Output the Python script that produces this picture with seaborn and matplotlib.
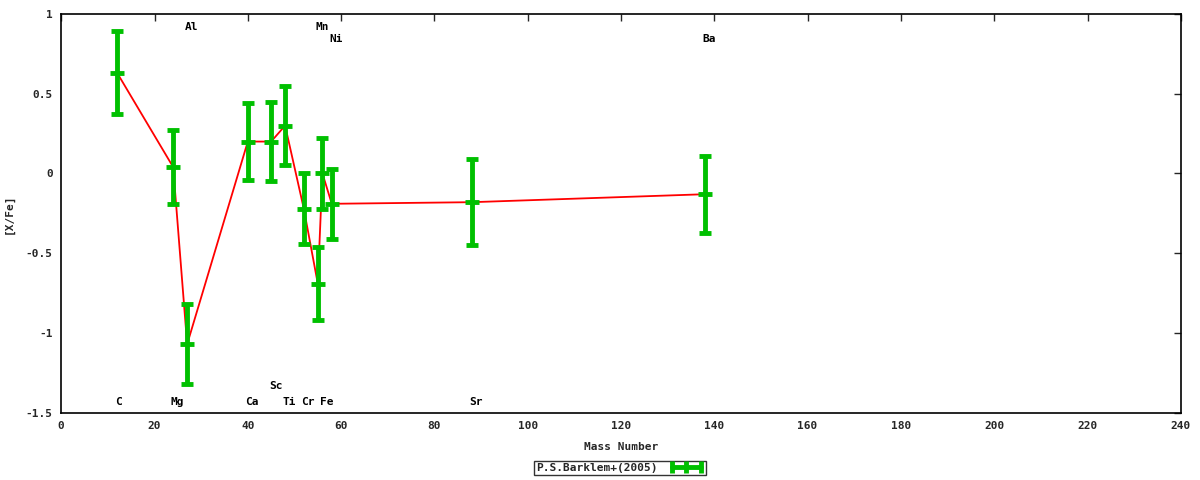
import numpy as np
import pandas as pd
import matplotlib
matplotlib.use('Agg')
import matplotlib.pyplot as plt
import seaborn as sns
from matplotlib.lines import Line2D
from matplotlib.legend_handler import HandlerLine2D

# ── Données ──────────────────────────────────────────────────────────────
elements = ['C', 'Mg', 'Al', 'Ca', 'Sc', 'Ti', 'Cr', 'Mn', 'Fe', 'Ni', 'Sr', 'Ba']
mass = [12, 24, 27, 40, 45, 48, 52, 55, 56, 58, 88, 138]
xfe = [0.63, 0.04, -1.07, 0.20, 0.20, 0.30, -0.22, -0.69, 0.00, -0.19, -0.18, -0.13]
err = [0.26, 0.23, 0.25, 0.24, 0.25, 0.25, 0.22, 0.23, 0.22, 0.22, 0.27, 0.24]
# position des étiquettes (haut / bas du cadre)
label_y = [-1.435, -1.435, 0.92, -1.435, -1.335, -1.435, -1.435, 0.92, -1.435, 0.845, -1.435, 0.845]

df = pd.DataFrame({'element': elements, 'mass': mass, 'xfe': xfe, 'err': err, 'ly': label_y})

sns.set_style('white')
plt.rcParams['font.family'] = ['DejaVu Sans Mono', 'DejaVu Sans']
plt.rcParams['font.weight'] = 'bold'
plt.rcParams['font.size'] = 8

green = '#00c000'
fig = plt.figure(figsize=(12, 4.8), dpi=100)
ax = fig.add_axes([0.051, 0.140, 0.933, 0.831])

sns.lineplot(data=df, x='mass', y='xfe', sort=False, color='#ff0000', linewidth=1.3, ax=ax, zorder=2)
ax.errorbar(df['mass'], df['xfe'], yerr=df['err'], fmt='_', color=green, ecolor=green,
            elinewidth=3.5, capsize=4, capthick=3.5, markersize=10, markeredgewidth=3.5, zorder=3)

for _, r in df.iterrows():
    ax.text(r['mass'] - 0.5, r['ly'], r['element'], ha='left', va='center', fontsize=8,
            fontweight='bold', color='black')

ax.set_xlim(0, 240)
ax.set_ylim(-1.5, 1)
ax.set_xticks(np.arange(0, 241, 20))
ax.set_yticks([-1.5, -1, -0.5, 0, 0.5, 1])
ax.set_yticklabels(['-1.5', '-1', '-0.5', '0', '0.5', '1'])
ax.tick_params(direction='in', length=5, width=1, top=True, right=True, labelsize=8, pad=6)
for s in ax.spines.values():
    s.set_color('black')
    s.set_linewidth(1.2)
ax.set_xlabel('Mass Number', fontsize=8, fontweight='bold', labelpad=8)
ax.set_ylabel('[X/Fe]', fontsize=8, fontweight='bold')
ax.yaxis.set_label_coords(-0.042, 0.5)

# légende : barre horizontale avec extrémités
proxy = Line2D([], [], color=green, linewidth=3.5, marker='|', markersize=9, markeredgewidth=3.5)
leg = ax.legend([proxy], ['P.S.Barklem+(2005)'], loc='center', bbox_to_anchor=(0.499, -0.138),
                frameon=True, fancybox=False, fontsize=8, handlelength=3.2, borderpad=0.15,
                handletextpad=1.0, borderaxespad=0, markerfirst=False,
                handler_map={proxy: HandlerLine2D(numpoints=3)})
leg.get_frame().set_edgecolor('black')
leg.get_frame().set_linewidth(1.0)

plt.savefig('out.png', dpi=100)
plt.close()
